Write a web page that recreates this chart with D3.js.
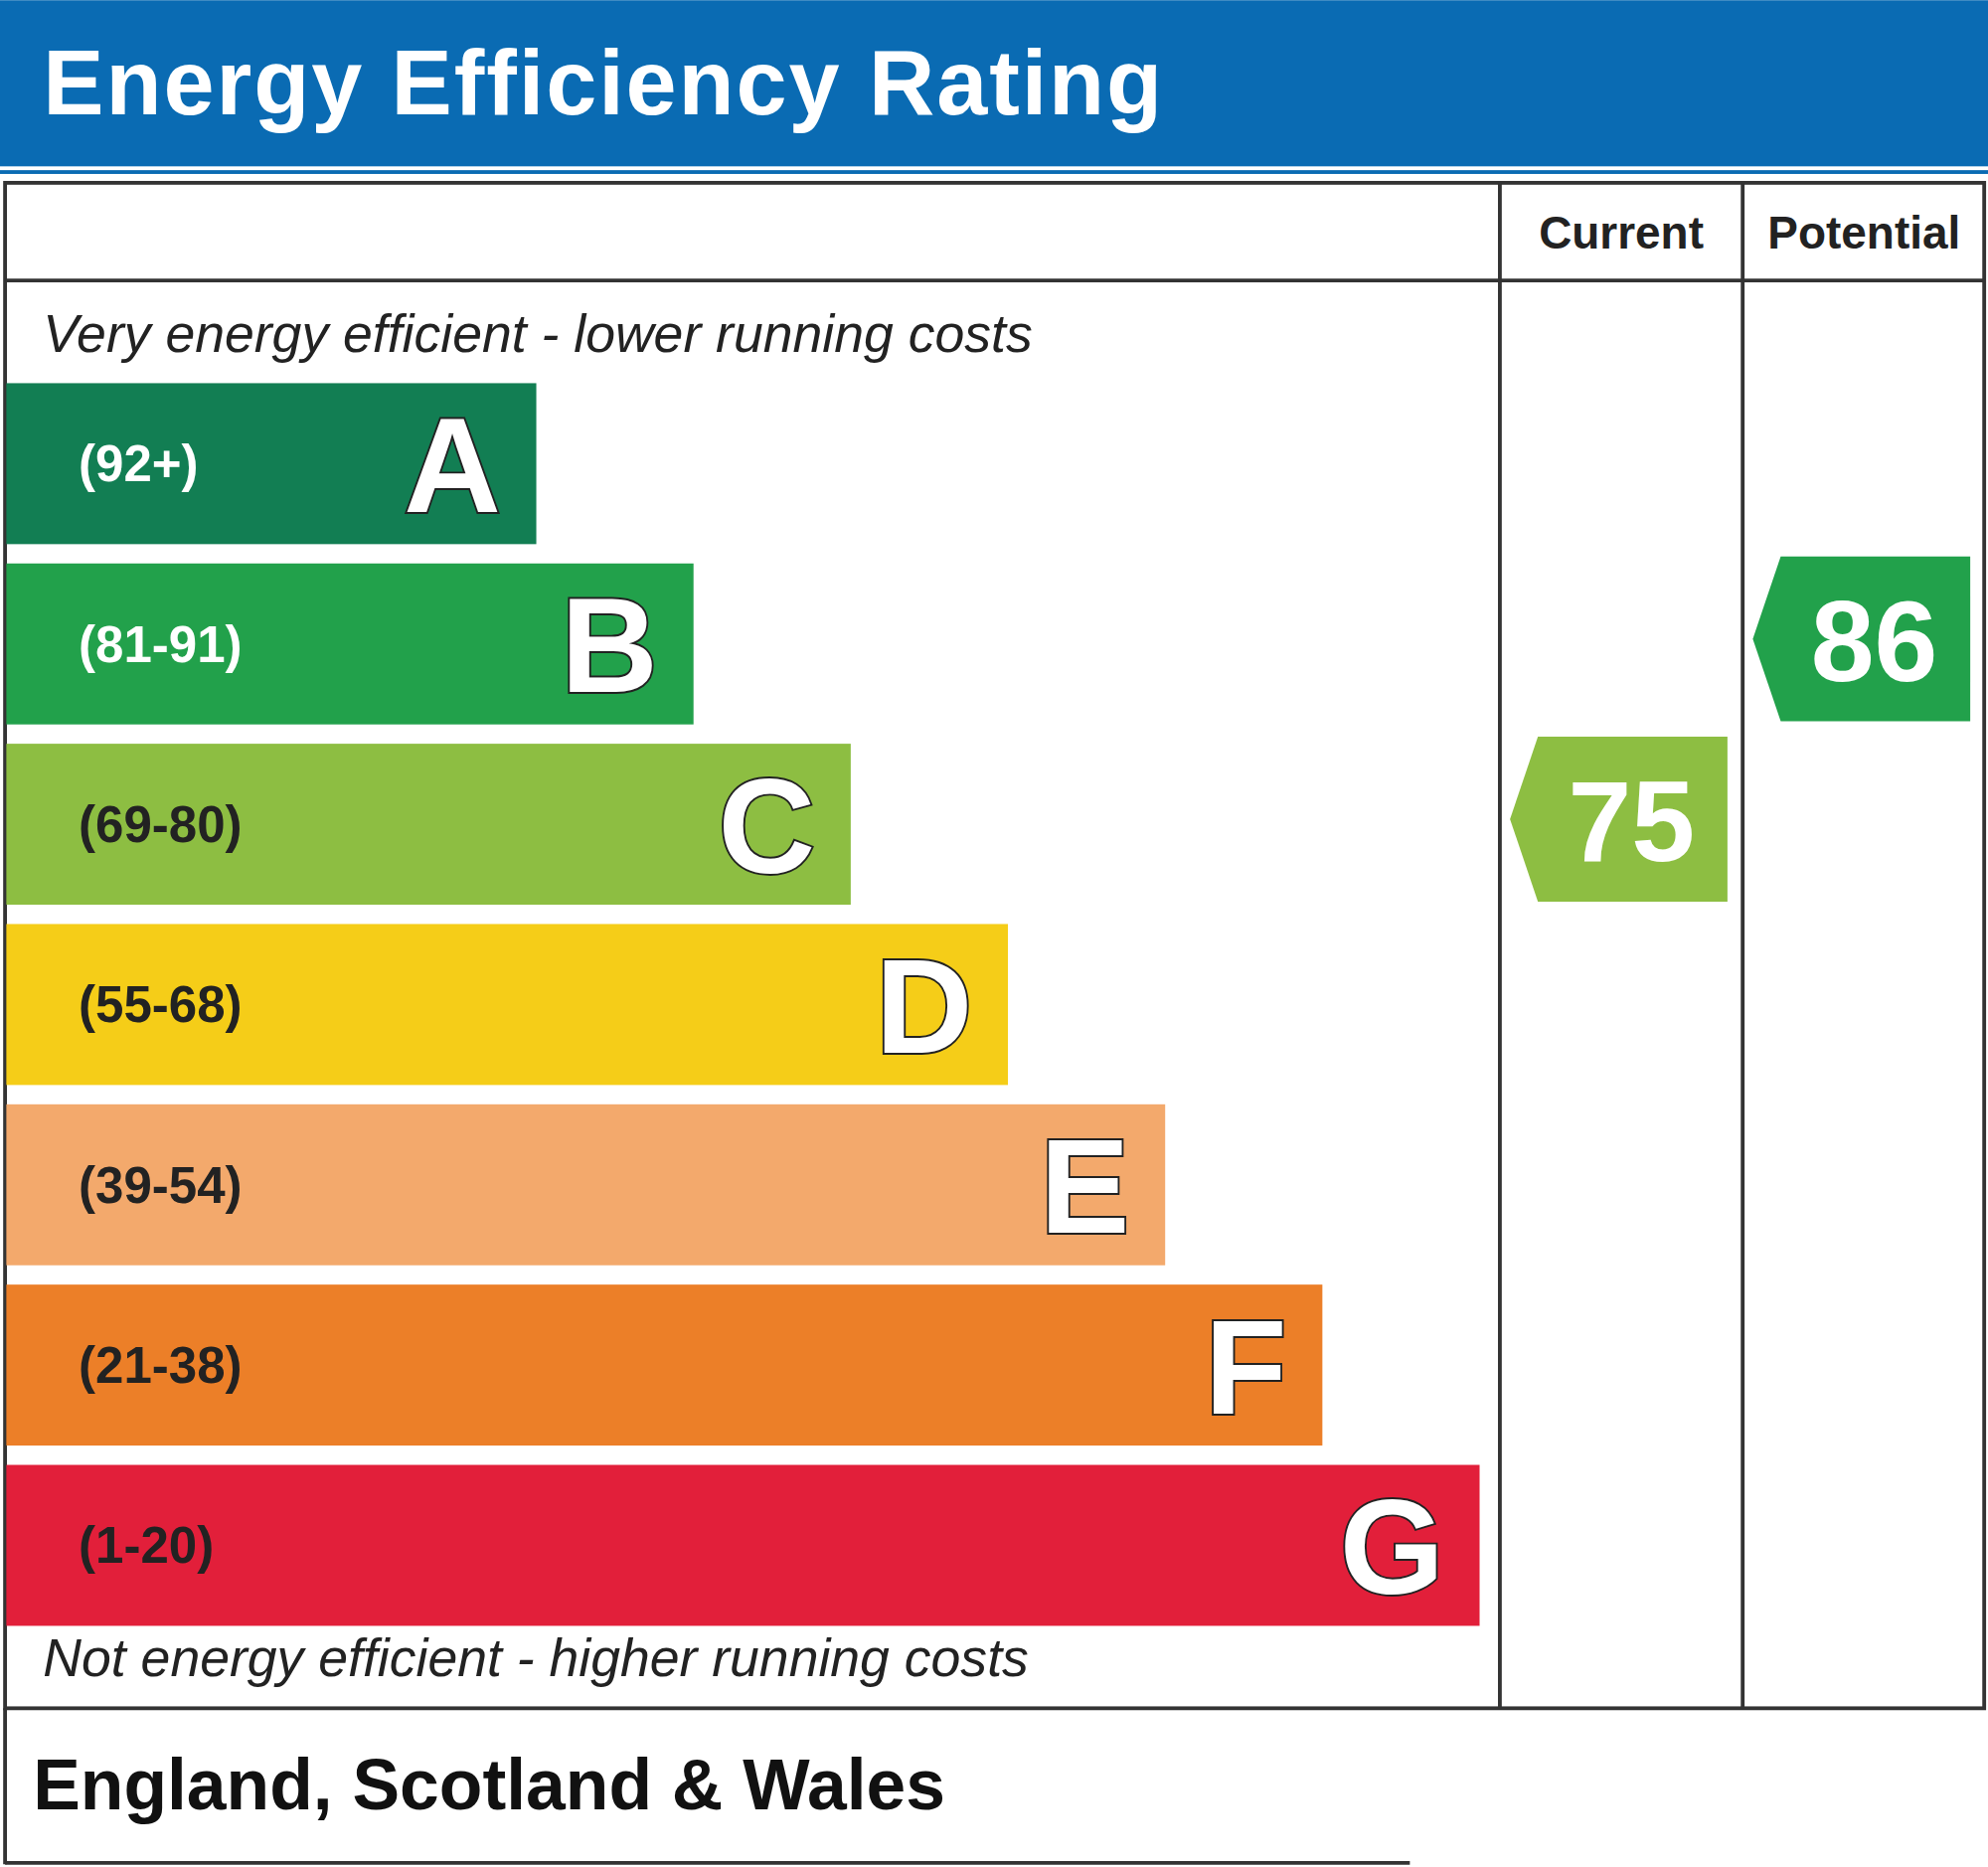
<!DOCTYPE html>
<html><head><meta charset="utf-8">
<script src="https://cdn.jsdelivr.net/npm/d3@7"></script>
<style>body{margin:0;background:#fff}svg{display:block}</style>
</head><body>
<svg id="chart" width="2000" height="1878" viewBox="0 0 1568 1472"></svg>
<script>
// Bands, their score ranges and colours
const bands = ['A', 'B', 'C', 'D', 'E', 'F', 'G'];
const ranges = ['(92+)', '(81-91)', '(69-80)', '(55-68)', '(39-54)', '(21-38)', '(1-20)'];
const minScores = [92, 81, 69, 55, 39, 21, 1];
const colors = ['#127e53', '#22a14b', '#8dbe42', '#f5cd18', '#f3a96c', '#ec7f28', '#e21f3a'];
const labelColors = ['#fff', '#fff', '#222', '#222', '#222', '#222', '#222'];

// Ratings
const columns = ['Current', 'Potential'];
const ratings = [75, 86];

const svg = d3.select('#chart');
const font = '"Liberation Sans", Arial, sans-serif';

// Header
svg.append('rect').attr('x', 0).attr('y', 0).attr('width', 1568).attr('height', 131).attr('fill', '#0a6bb3');
svg.append('rect').attr('x', 0).attr('y', 134).attr('width', 1568).attr('height', 3).attr('fill', '#0a6bb3');
svg.append('text').attr('x', 34).attr('y', 90).attr('fill', '#fff')
  .attr('font-family', font).attr('font-weight', 'bold').attr('font-size', 72)
  .attr('letter-spacing', 1.5).text('Energy Efficiency Rating');

// Scales
const y = d3.scaleBand().domain(bands).range([302, 1282]).paddingInner(15 / 140).paddingOuter(0);
const x = d3.scaleLinear().domain([0, bands.length - 1]).range([423, 1167]);
const colX = d3.scaleBand().domain(columns).range([1183, 1566]);
const bandOf = v => bands[minScores.findIndex(m => v >= m)];

// Table frame
const frame = svg.append('g').attr('fill', 'none').attr('stroke', '#333').attr('stroke-width', 3);
frame.append('rect').attr('x', 4).attr('y', 144).attr('width', 1561).attr('height', 1203);
frame.append('line').attr('x1', 4).attr('x2', 1565).attr('y1', 221).attr('y2', 221);
columns.forEach(c => frame.append('line').attr('x1', colX(c)).attr('x2', colX(c)).attr('y1', 144).attr('y2', 1347));

// Column headers
svg.selectAll('.colhead').data(columns).enter().append('text')
  .attr('x', d => colX(d) + colX.bandwidth() / 2).attr('y', 196)
  .attr('text-anchor', 'middle').attr('font-family', font).attr('font-weight', 'bold')
  .attr('font-size', 36).attr('fill', '#222').text(d => d);

// Captions
svg.append('text').attr('x', 34).attr('y', 277).attr('font-family', font).attr('font-style', 'italic')
  .attr('font-size', 42).attr('fill', '#222').text('Very energy efficient - lower running costs');
svg.append('text').attr('x', 34).attr('y', 1322).attr('font-family', font).attr('font-style', 'italic')
  .attr('font-size', 42).attr('fill', '#222').text('Not energy efficient - higher running costs');

// Bars
const bar = svg.selectAll('.band').data(bands).enter().append('g').attr('class', 'band');
bar.append('rect').attr('x', 5).attr('y', d => y(d)).attr('height', y.bandwidth())
  .attr('width', (d, i) => x(i) - 5).attr('fill', (d, i) => colors[i]);
bar.append('text').attr('x', 62).attr('y', d => y(d) + y.bandwidth() / 2 + 14)
  .attr('font-family', font).attr('font-weight', 'bold').attr('font-size', 40)
  .attr('fill', (d, i) => labelColors[i]).text((d, i) => ranges[i]);
bar.append('text').attr('x', (d, i) => x(i) - 28).attr('y', d => y(d) + y.bandwidth() / 2 + 38)
  .attr('text-anchor', 'end').attr('font-family', font).attr('font-weight', 'bold').attr('font-size', 106)
  .attr('fill', '#fff').attr('stroke', '#222').attr('stroke-width', 3).attr('paint-order', 'stroke')
  .text(d => d);

// Rating arrows
ratings.forEach((v, i) => {
  const b = bandOf(v);
  const bi = bands.indexOf(b);
  const cy = y(b) + y.bandwidth() / 2 - 4;
  const h = 130, x0 = colX(columns[i]) + 8, x1 = colX(columns[i]) + colX.bandwidth() - 12;
  svg.append('path')
    .attr('d', `M${x0},${cy} L${x0 + 22},${cy - h / 2} L${x1},${cy - h / 2} L${x1},${cy + h / 2} L${x0 + 22},${cy + h / 2} Z`)
    .attr('fill', colors[bi]);
  svg.append('text').attr('x', (x0 + x1) / 2 + 10).attr('y', cy + 33)
    .attr('text-anchor', 'middle').attr('font-family', font).attr('font-weight', 'bold')
    .attr('font-size', 90).attr('fill', '#fff').text(v);
});

// Footer
const foot = svg.append('g').attr('fill', 'none').attr('stroke', '#333').attr('stroke-width', 3);
foot.append('line').attr('x1', 4).attr('x2', 4).attr('y1', 1347).attr('y2', 1470);
foot.append('line').attr('x1', 4).attr('x2', 1112).attr('y1', 1469).attr('y2', 1469);
svg.append('text').attr('x', 26).attr('y', 1427).attr('font-family', font).attr('font-weight', 'bold')
  .attr('font-size', 56).attr('fill', '#111').text('England, Scotland & Wales');
</script>
</body></html>
